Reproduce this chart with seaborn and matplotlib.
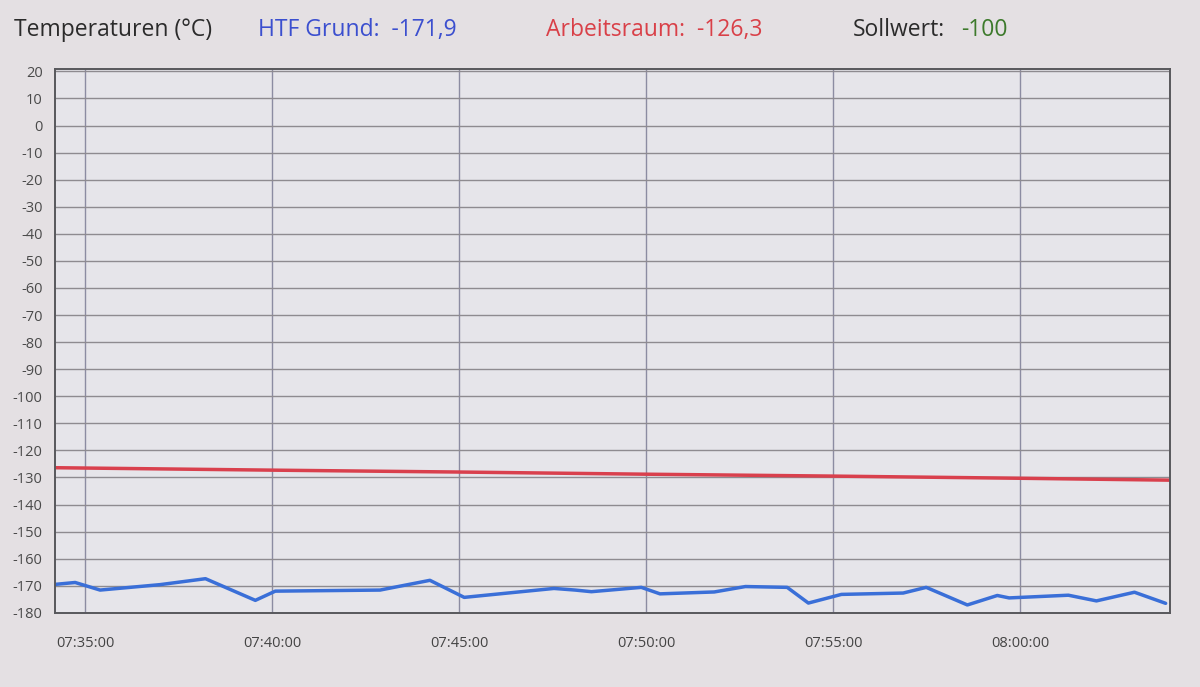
import pandas as pd
import numpy as np
import seaborn as sns
import matplotlib.pyplot as plt
import matplotlib.dates as mdates

# Blue series: HTF Grund
htf_times = ['07:34:12', '07:34:44', '07:35:24', '07:37:00', '07:38:13', '07:39:33',
             '07:40:05', '07:42:53', '07:44:13', '07:45:08', '07:47:32', '07:48:06',
             '07:48:32', '07:49:52', '07:50:22', '07:51:49', '07:52:39', '07:53:46',
             '07:54:20', '07:55:13', '07:56:52', '07:57:29', '07:58:35', '07:59:23',
             '07:59:42', '08:01:17', '08:02:02', '08:03:03', '08:03:53']
htf_values = [-169.5, -168.8, -171.6, -169.6, -167.4, -175.4,
              -172.0, -171.6, -168.0, -174.3, -171.0, -171.6,
              -172.2, -170.6, -173.0, -172.3, -170.3, -170.6,
              -176.4, -173.2, -172.7, -170.6, -177.1, -173.6,
              -174.5, -173.5, -175.6, -172.4, -176.5]

# Red series: Arbeitsraum
arb_times = ['07:34:12', '07:40:00', '07:45:00', '07:50:00', '07:55:00', '08:00:00', '08:04:00']
arb_values = [-126.4, -127.3, -128.0, -128.8, -129.5, -130.3, -131.0]

x_ticks = ['07:35:00', '07:40:00', '07:45:00', '07:50:00', '07:55:00', '08:00:00']
y_ticks = list(range(20, -190, -10))

day = '2024-01-01 '
htf = pd.DataFrame({'time': pd.to_datetime([day + t for t in htf_times]), 'temp': htf_values})
arb = pd.DataFrame({'time': pd.to_datetime([day + t for t in arb_times]), 'temp': arb_values})

sns.set_style('white')
plt.rcParams['font.family'] = ['Open Sans', 'DejaVu Sans']

bg = '#e4e0e3'
fig = plt.figure(figsize=(12, 6.87), dpi=100, facecolor=bg)
ax = fig.add_axes([0.046, 0.108, 0.929, 0.792])
ax.set_facecolor('#e6e5ea')

sns.lineplot(data=arb, x='time', y='temp', color='#d9404d', linewidth=2.5, ax=ax)
sns.lineplot(data=htf, x='time', y='temp', color='#3a6fd8', linewidth=2.5, ax=ax)

ax.set_xlim(pd.Timestamp(day + '07:34:12'), pd.Timestamp(day + '08:04:00'))
ax.set_ylim(-180, 21)
ax.set_yticks(y_ticks)
ax.set_yticklabels([str(v) for v in y_ticks], fontsize=10.5, color='#4a4a4a')
ax.set_xticks(pd.to_datetime([day + t for t in x_ticks]))
ax.xaxis.set_major_formatter(mdates.DateFormatter('%H:%M:%S'))
ax.tick_params(axis='x', labelsize=10.5, colors='#555555', labelcolor='#444444',
               length=11, width=1.2, pad=6, direction='out')
ax.tick_params(axis='y', length=8, width=1.2, pad=1, direction='out',
               colors='#555555', labelcolor='#4a4a4a')

ax.grid(True, which='major', axis='y', color='#8e8b90', linewidth=1.0)
ax.grid(True, which='major', axis='x', color='#8c8ca2', linewidth=1.0)
ax.set_axisbelow(True)
for side in ['left', 'bottom', 'top', 'right']:
    ax.spines[side].set_visible(True)
    ax.spines[side].set_color('#58585c')
    ax.spines[side].set_linewidth(1.4)
ax.set_xlabel('')
ax.set_ylabel('')

# Header line
fs = 16.5
fig.text(0.012, 0.957, 'Temperaturen (°C)', fontsize=fs, color='#2b2b2b', va='center')
fig.text(0.215, 0.957, 'HTF Grund:  -171,9', fontsize=fs, color='#3b4fcf', va='center')
fig.text(0.455, 0.957, 'Arbeitsraum:  -126,3', fontsize=fs, color='#d94048', va='center')
fig.text(0.711, 0.957, 'Sollwert:', fontsize=fs, color='#2b2b2b', va='center')
fig.text(0.801, 0.957, '-100', fontsize=fs, color='#3d7a2c', va='center')

fig.savefig('out.png', dpi=100, facecolor=bg)
